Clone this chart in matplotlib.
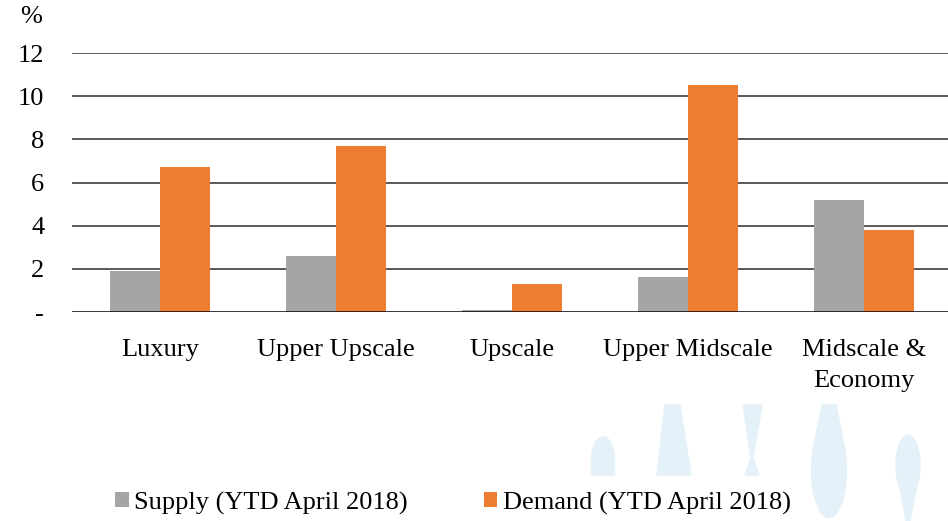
import numpy as np
import matplotlib.pyplot as plt
from matplotlib.patches import Polygon, Ellipse

categories = ["Luxury", "Upper Upscale", "Upscale", "Upper Midscale", "Midscale &\nEconomy"]
supply = [1.9, 2.6, 0.1, 1.6, 5.2]
demand = [6.7, 7.7, 1.3, 10.5, 3.8]
yticks = [0, 2, 4, 6, 8, 10, 12]
ytick_labels = ["-", "2", "4", "6", "8", "10", "12"]

plt.rcParams['font.family'] = ['Liberation Serif', 'DejaVu Serif']

W, H = 948, 521
fig = plt.figure(figsize=(W / 100, H / 100), dpi=100)

# light blue watermark shapes in the bottom right corner
wm = '#e4f1f8'
def fx(x): return x / W
def fy(y): return 1 - y / H
def shape(pts):
    fig.patches.append(Polygon([(fx(a), fy(b)) for a, b in pts], closed=True,
                               transform=fig.transFigure, color=wm, zorder=0))

t = np.linspace(0, np.pi, 30)
shape([(603 + 11.5 * np.cos(a), 458 - 21 * np.sin(a)) for a in t] + [(591.5, 475), (614.5, 475)])
shape([(665, 405), (680, 405), (691, 475), (657, 475)])
shape([(743, 405), (762, 405), (753, 458), (751, 458)])
shape([(751, 458), (753, 458), (759, 475), (745, 475)])
fig.patches.append(Ellipse((fx(829), fy(470)), 35 / W, 95 / H, transform=fig.transFigure, color=wm, zorder=0))
shape([(822, 405), (836, 405), (845, 450), (813, 450)])
fig.patches.append(Ellipse((fx(908), fy(465)), 24 / W, 60 / H, transform=fig.transFigure, color=wm, zorder=0))
shape([(897, 470), (920, 470), (910, 521), (906, 521)])

ax = fig.add_axes([72 / W, 1 - 312 / H, 880 / W, 259 / H])
ax.patch.set_alpha(0)

x = np.arange(len(categories))
bw = 0.284
ax.bar(x - bw / 2, supply, bw, color='#a5a5a5', label='Supply (YTD April 2018)', zorder=3)
ax.bar(x + bw / 2, demand, bw, color='#ed7d31', label='Demand (YTD April 2018)', zorder=3)

ax.set_xlim(-0.5, 4.5)
ax.set_ylim(0, 12)
ax.set_yticks(yticks)
ax.set_yticklabels(ytick_labels)
ax.set_xticks(x)
ax.set_xticklabels(categories, linespacing=1.5)
for y in yticks[1:]:
    ax.axhline(y, color='#595959', lw=1.4, zorder=1)
ax.axhline(0, color='black', lw=1.8, zorder=4)

for s in ax.spines.values():
    s.set_visible(False)
ax.tick_params(axis='both', length=0, labelsize=19, colors='black')
ax.tick_params(axis='y', pad=20)
ax.tick_params(axis='x', pad=19.5)

fig.text(31 / W, 1 - 17 / H, '%', fontsize=19, ha='center', va='center')

fig.legend(loc='center', bbox_to_anchor=(453 / W, 1 - 503 / H), ncol=2, frameon=False,
           fontsize=19, handlelength=0.5, handleheight=0.5, handletextpad=0.2,
           columnspacing=2.9)

fig.savefig('out.png', dpi=100)
